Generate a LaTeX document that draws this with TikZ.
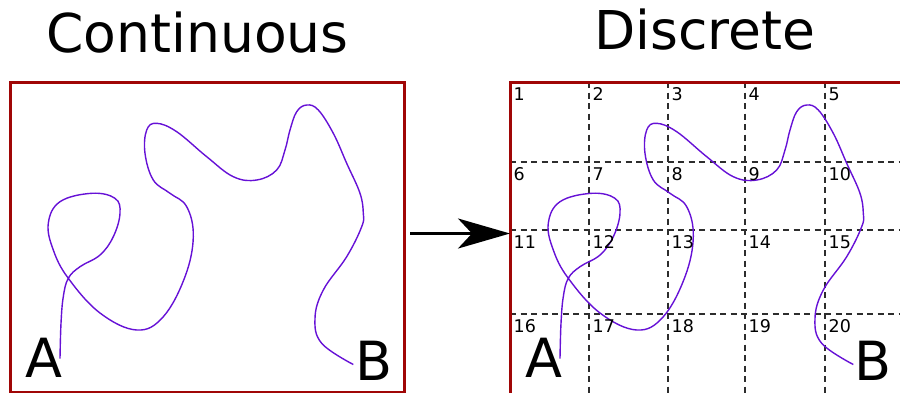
\documentclass[tikz,border=0pt]{standalone}
\usepackage{fontspec}
\setmainfont{DejaVu Sans}
\usetikzlibrary{arrows.meta}
\definecolor{boxred}{RGB}{160,6,6}
\definecolor{curvec}{RGB}{102,17,214}
\definecolor{gridc}{RGB}{45,45,45}
\tikzset{
  boxline/.style={draw=boxred, line width=3pt},
  gridline/.style={draw=gridc, line width=1.6pt, dash pattern=on 6pt off 4.5pt},
  curveline/.style={draw=curvec, line width=1.4pt, line join=round},
  titletext/.style={inner sep=0pt, anchor=base, font=\fontsize{53.5}{60}\selectfont},
  endtext/.style={inner sep=0pt, anchor=base, font=\fontsize{54}{60}\selectfont},
  celltext/.style={inner sep=0pt, anchor=base west, font=\fontsize{17.5}{20}\selectfont},
  bigarrow/.style={draw=black, line width=3pt, -{Stealth[length=52pt,width=30pt,inset=14pt]}}
}
\newcommand{\pathpts}{(60,358.6) (61,323.3) (63.3,296.7) (68.3,278.3) (80,266.7) (100,255) (113.3,236.7) (120,213.3) (115,198.3) (91.7,193.3) (60,201.7) (48.3,223.3) (53.3,250) (68.3,278.3) (100,313) (136.7,330) (163.3,316.7) (185,276.7) (193.3,236.7) (186.7,206.7) (170,193.3) (153.3,180) (145,153.3) (146.7,130) (156.7,123.3) (176.7,131.7) (206.7,156.7) (233.3,176.7) (256.7,180) (276.7,170) (285,150) (290,130) (296.7,111.7) (306.7,105) (318.3,110) (333.3,133.3) (346.7,163.3) (360,193.3) (363.3,213.3) (361.7,226.7) (346.7,256.7) (323.3,290) (315,318.3) (321.7,343.3) (353.3,364.5)}
\begin{document}
\begin{tikzpicture}[x=1pt,y=-1pt]
\useasboundingbox (0,0) rectangle (900,392);
\begin{scope}
\clip (0,0) rectangle (900,392);
% grid
\foreach \gx in {589,668,745,825} {\draw[gridline] (\gx,82) -- (\gx,395);}
\foreach \gy in {162,230,314} {\draw[gridline] (510,\gy) -- (905,\gy);}
% boxes
\draw[boxline] (10.5,82) rectangle (404.7,392);
\draw[boxline] (510.5,394) -- (510.5,82) -- (910,82);
% curves
\foreach \s in {0,500} {
  \draw[curveline, xshift=\s pt] plot[smooth, tension=0.65] coordinates {\pathpts};
}
% arrow
\coordinate (arrS) at (410,233.5);
\coordinate (arrE) at (510,233.5);
\draw[bigarrow] (arrS) -- (arrE);
\end{scope}
% titles
\node[titletext] (tcont) at (197.5,52) {Continuous};
\node[titletext] (tdisc) at (705,49.5) {Discrete};
% cell numbers
\foreach \cx [count=\ci from 1] in {510,589,668,745,825} {
  \foreach \ry [count=\ri from 0] in {82,162,230,314} {
    \pgfmathtruncatemacro{\num}{\ri*5+\ci}
    \node[celltext] (lab\num) at (\cx+3.5,\ry+18) {\num};
  }
}
% endpoints
\node[endtext] (aL) at (44,377.7) {A};
\node[endtext] (bL) at (374,380) {B};
\node[endtext] (aR) at (543.5,377.7) {A};
\node[endtext] (bR) at (873,380) {B};
\end{tikzpicture}
\end{document}
